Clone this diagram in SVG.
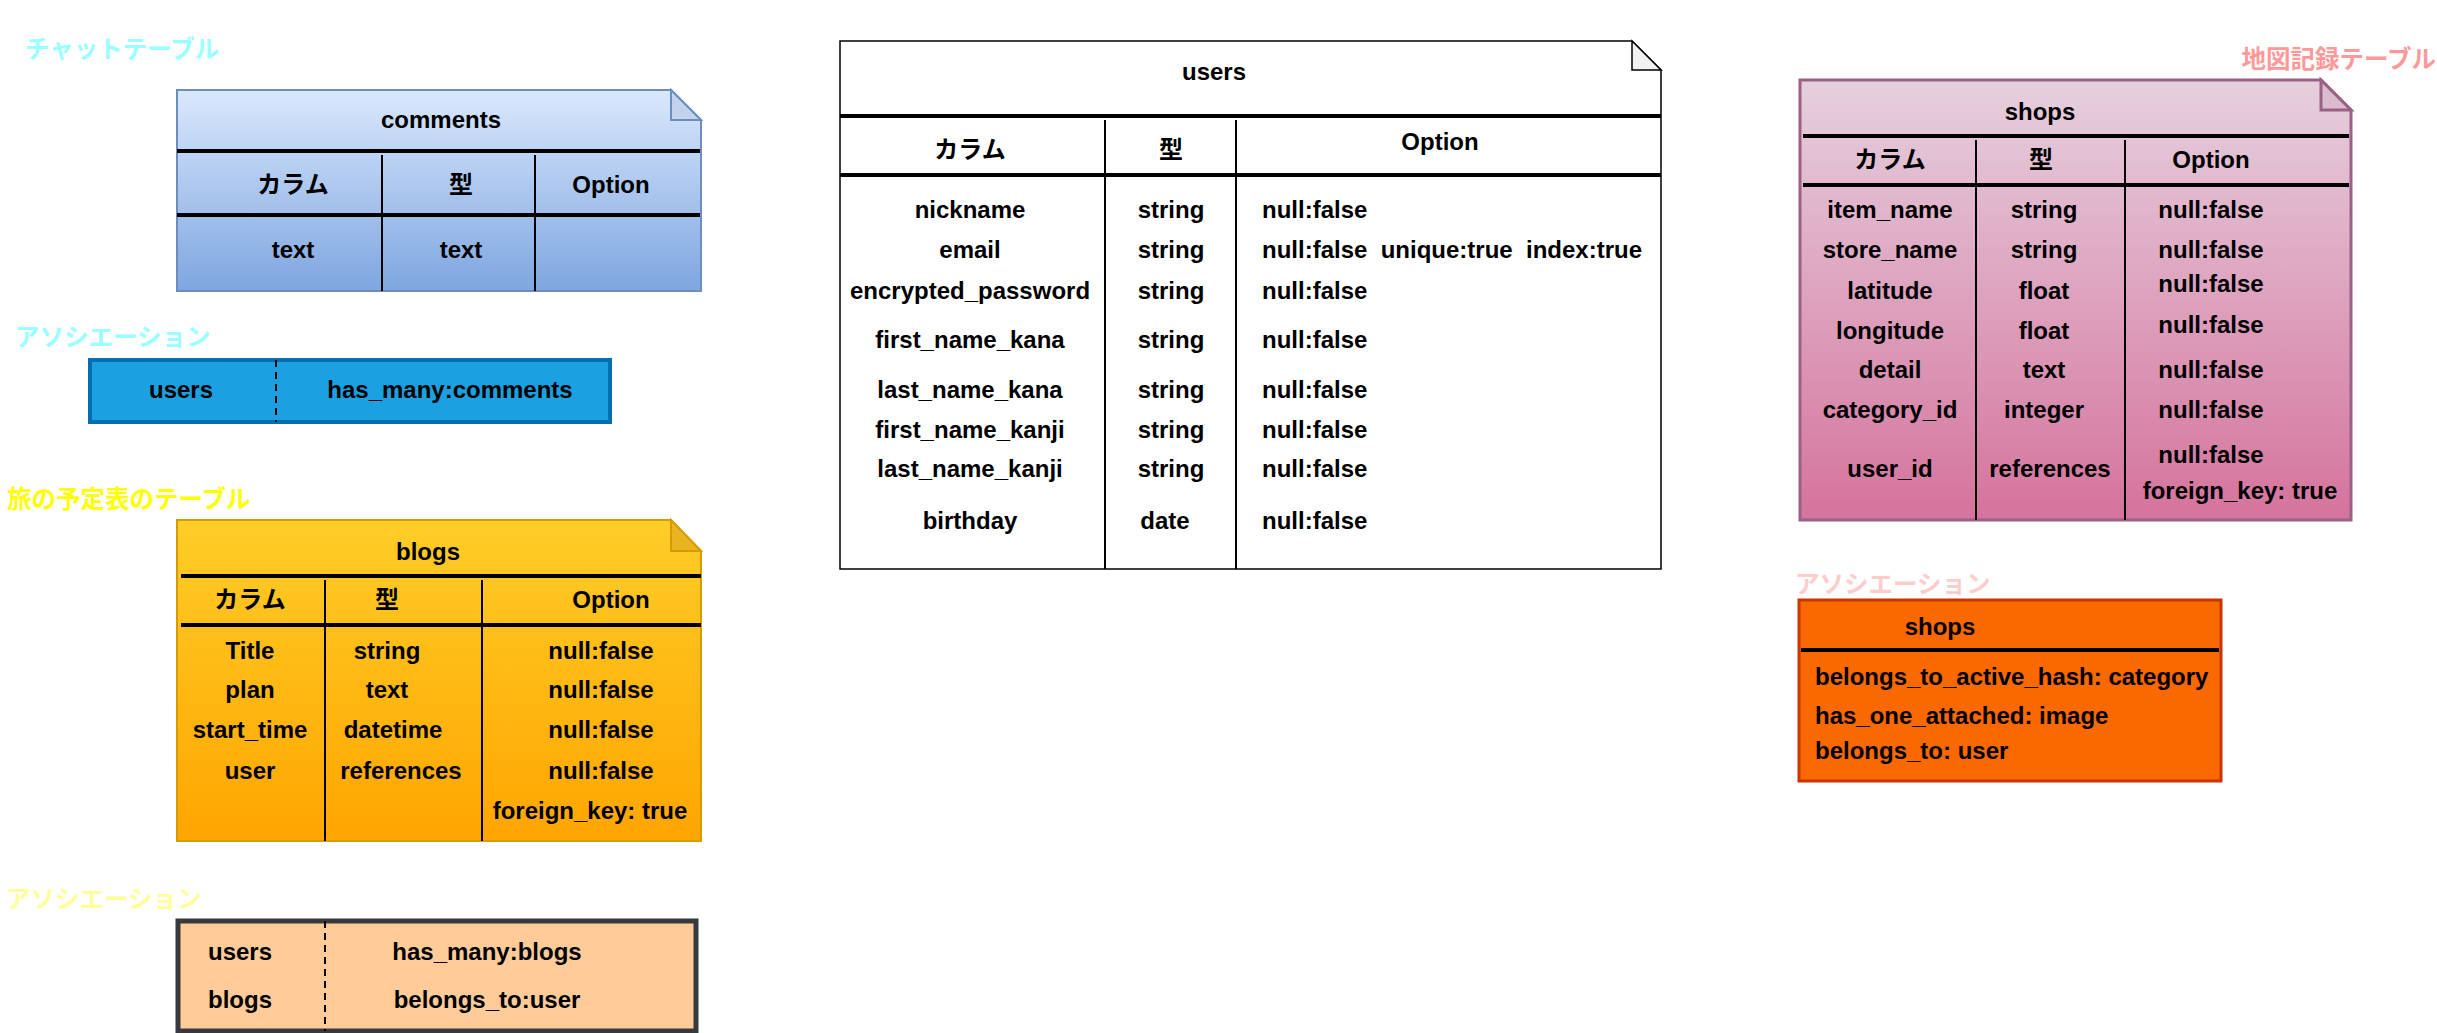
<svg xmlns="http://www.w3.org/2000/svg" width="2437" height="1033" viewBox="0 0 2437 1033">
<defs>
<linearGradient id="gBlue" x1="0" y1="0" x2="0" y2="1"><stop offset="0" stop-color="#dae8fc"/><stop offset="1" stop-color="#7ea6e0"/></linearGradient>
<linearGradient id="gYel" x1="0" y1="0" x2="0" y2="1"><stop offset="0" stop-color="#ffcd28"/><stop offset="1" stop-color="#ffa500"/></linearGradient>
<linearGradient id="gPink" x1="0" y1="0" x2="0" y2="1"><stop offset="0" stop-color="#e6d0de"/><stop offset="1" stop-color="#d5739d"/></linearGradient>
<style>
text{font-family:"Liberation Sans","Noto Sans CJK JP",Arial,sans-serif;font-weight:bold;font-size:24px;fill:#000}
.c{text-anchor:middle}
.lbl{font-family:"Noto Sans CJK JP","Liberation Sans",sans-serif;font-size:24.5px;font-weight:bold}
.thick{stroke:#000;stroke-width:4;fill:none}
.thin{stroke:#000;stroke-width:2;fill:none}
.dash{stroke:#000;stroke-width:2;stroke-dasharray:7 5;fill:none}
</style>
</defs>
<rect width="2437" height="1033" fill="#fff"/>

<g id="labels">
<text class="lbl" x="25" y="58" style="fill:#99ffff">チャットテーブル</text>
<text class="lbl" x="15" y="346" style="fill:#99ffff">アソシエーション</text>
<text class="lbl" x="7" y="508" style="fill:#ffff00">旅の予定表のテーブル</text>
<text class="lbl" x="6" y="908" style="fill:#ffff99">アソシエーション</text>
<text class="lbl" x="2436" y="68" style="fill:#ff9999;text-anchor:end">地図記録テーブル</text>
<text class="lbl" x="1795" y="593" style="fill:#ffcccc">アソシエーション</text>
</g>

<g id="comments">
<path d="M177,90 H671 L701,120 V291 H177 Z" fill="url(#gBlue)" stroke="#6c8ebf" stroke-width="2"/>
<path d="M671,90 V120 H701 Z" fill="#c3d3ec" stroke="#6c8ebf" stroke-width="2"/>
<line class="thick" x1="177" y1="151" x2="700" y2="151"/>
<line class="thin" x1="382" y1="155" x2="382" y2="291"/>
<line class="thin" x1="535" y1="155" x2="535" y2="291"/>
<line class="thick" x1="177" y1="215" x2="700" y2="215"/>
<text class="c" x="441" y="128">comments</text>
<text class="c" x="293" y="193">カラム</text>
<text class="c" x="461" y="193">型</text>
<text class="c" x="611" y="193">Option</text>
<text class="c" x="293" y="258">text</text>
<text class="c" x="461" y="258">text</text>
</g>

<g id="comments-assoc">
<rect x="90" y="360" width="520" height="62" fill="#1ba1e2" stroke="#006eaf" stroke-width="4"/>
<line class="dash" x1="276" y1="360" x2="276" y2="422"/>
<text class="c" x="181" y="398">users</text>
<text class="c" x="450" y="398">has_many:comments</text>
</g>

<g id="blogs">
<path d="M177,520 H671 L701,551 V841 H177 Z" fill="url(#gYel)" stroke="#d79b00" stroke-width="2"/>
<path d="M671,520 V551 H701 Z" fill="#e8b420" stroke="#d79b00" stroke-width="2"/>
<line class="thick" x1="181" y1="576" x2="701" y2="576"/>
<line class="thin" x1="325" y1="580" x2="325" y2="841"/>
<line class="thin" x1="482" y1="580" x2="482" y2="841"/>
<line class="thick" x1="181" y1="625" x2="701" y2="625"/>
<text class="c" x="428" y="560">blogs</text>
<text class="c" x="250" y="608">カラム</text>
<text class="c" x="387" y="608">型</text>
<text class="c" x="611" y="608">Option</text>
<text class="c" x="250" y="659">Title</text>
<text class="c" x="250" y="698">plan</text>
<text class="c" x="250" y="738">start_time</text>
<text class="c" x="250" y="779">user</text>
<text class="c" x="387" y="659">string</text>
<text class="c" x="387" y="698">text</text>
<text class="c" x="393" y="738">datetime</text>
<text class="c" x="401" y="779">references</text>
<text class="c" x="601" y="659">null:false</text>
<text class="c" x="601" y="698">null:false</text>
<text class="c" x="601" y="738">null:false</text>
<text class="c" x="601" y="779">null:false</text>
<text class="c" x="590" y="819">foreign_key: true</text>
</g>

<g id="blogs-assoc">
<rect x="178" y="921" width="518" height="110" fill="#ffcc99" stroke="#36393d" stroke-width="5"/>
<line class="dash" x1="325" y1="921" x2="325" y2="1031"/>
<text class="c" x="240" y="960">users</text>
<text class="c" x="240" y="1008">blogs</text>
<text class="c" x="487" y="960">has_many:blogs</text>
<text class="c" x="487" y="1008">belongs_to:user</text>
</g>

<g id="users">
<path d="M840,41 H1632 L1661,70 V569 H840 Z" fill="#fff" stroke="#000" stroke-width="1.5"/>
<path d="M1632,41 V70 H1661 Z" fill="#f1f1f1" stroke="#000" stroke-width="1.5"/>
<line class="thick" x1="840" y1="116" x2="1661" y2="116"/>
<line class="thin" x1="1105" y1="120" x2="1105" y2="569"/>
<line class="thin" x1="1236" y1="120" x2="1236" y2="569"/>
<line class="thick" x1="840" y1="175" x2="1661" y2="175"/>
<text class="c" x="1214" y="80">users</text>
<text class="c" x="970" y="158">カラム</text>
<text class="c" x="1171" y="158">型</text>
<text class="c" x="1440" y="150">Option</text>
<text class="c" x="970" y="218">nickname</text>
<text class="c" x="970" y="258">email</text>
<text class="c" x="970" y="299">encrypted_password</text>
<text class="c" x="970" y="348">first_name_kana</text>
<text class="c" x="970" y="398">last_name_kana</text>
<text class="c" x="970" y="438">first_name_kanji</text>
<text class="c" x="970" y="477">last_name_kanji</text>
<text class="c" x="970" y="529">birthday</text>
<text class="c" x="1171" y="218">string</text>
<text class="c" x="1171" y="258">string</text>
<text class="c" x="1171" y="299">string</text>
<text class="c" x="1171" y="348">string</text>
<text class="c" x="1171" y="398">string</text>
<text class="c" x="1171" y="438">string</text>
<text class="c" x="1171" y="477">string</text>
<text class="c" x="1165" y="529">date</text>
<text x="1262" y="218">null:false</text>
<text x="1262" y="258" xml:space="preserve">null:false  unique:true  index:true</text>
<text x="1262" y="299">null:false</text>
<text x="1262" y="348">null:false</text>
<text x="1262" y="398">null:false</text>
<text x="1262" y="438">null:false</text>
<text x="1262" y="477">null:false</text>
<text x="1262" y="529">null:false</text>
</g>

<g id="shops">
<path d="M1800,80 H2321 L2351,110 V520 H1800 Z" fill="url(#gPink)" stroke="#996185" stroke-width="3"/>
<path d="M2321,80 V110 H2351 Z" fill="#dbbccf" stroke="#996185" stroke-width="3"/>
<line class="thick" x1="1803" y1="136" x2="2349" y2="136"/>
<line class="thin" x1="1976" y1="140" x2="1976" y2="520"/>
<line class="thin" x1="2125" y1="140" x2="2125" y2="520"/>
<line class="thick" x1="1803" y1="185" x2="2349" y2="185"/>
<text class="c" x="2040" y="120">shops</text>
<text class="c" x="1890" y="168">カラム</text>
<text class="c" x="2041" y="168">型</text>
<text class="c" x="2211" y="168">Option</text>
<text class="c" x="1890" y="218">item_name</text>
<text class="c" x="1890" y="258">store_name</text>
<text class="c" x="1890" y="299">latitude</text>
<text class="c" x="1890" y="339">longitude</text>
<text class="c" x="1890" y="378">detail</text>
<text class="c" x="1890" y="418">category_id</text>
<text class="c" x="1890" y="477">user_id</text>
<text class="c" x="2044" y="218">string</text>
<text class="c" x="2044" y="258">string</text>
<text class="c" x="2044" y="299">float</text>
<text class="c" x="2044" y="339">float</text>
<text class="c" x="2044" y="378">text</text>
<text class="c" x="2044" y="418">integer</text>
<text class="c" x="2050" y="477">references</text>
<text class="c" x="2211" y="218">null:false</text>
<text class="c" x="2211" y="258">null:false</text>
<text class="c" x="2211" y="292">null:false</text>
<text class="c" x="2211" y="333">null:false</text>
<text class="c" x="2211" y="378">null:false</text>
<text class="c" x="2211" y="418">null:false</text>
<text class="c" x="2211" y="463">null:false</text>
<text class="c" x="2240" y="499">foreign_key: true</text>
</g>

<g id="shops-assoc">
<rect x="1799" y="600" width="422" height="181" fill="#fa6800" stroke="#c73500" stroke-width="3"/>
<line class="thick" x1="1801" y1="650" x2="2219" y2="650"/>
<text class="c" x="1940" y="635">shops</text>
<text x="1815" y="685">belongs_to_active_hash: category</text>
<text x="1815" y="724">has_one_attached: image</text>
<text x="1815" y="759">belongs_to: user</text>
</g>

<g id="connectors"></g>
</svg>
